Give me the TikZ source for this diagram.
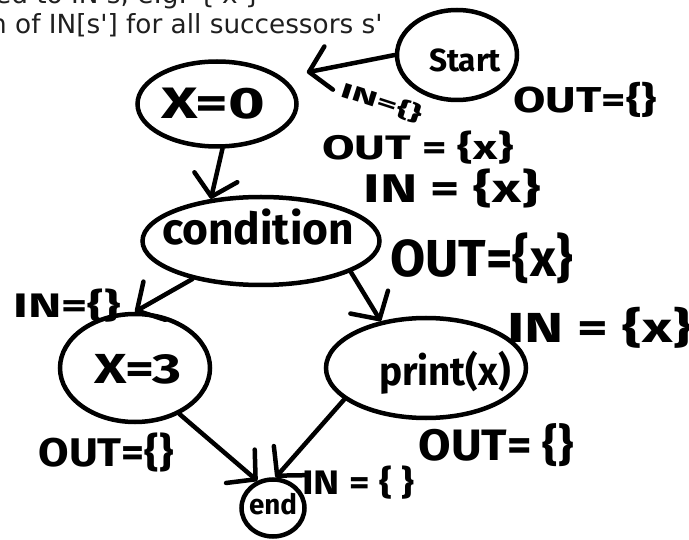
\documentclass[tikz,border=0pt]{standalone}
\usepackage{fontspec}
\setmainfont{DejaVu Sans}[Ligatures=TeXOff]
\newfontfamily\hand{Fira Sans}
\usetikzlibrary{shapes.geometric,arrows.meta}
\newsavebox\fitbox
\newcommand\fitw[3]{\begingroup\fontsize{#1}{#1}\selectfont\hand\bfseries
  \sbox\fitbox{#3}\pgfmathsetmacro\fitratio{#2/\the\wd\fitbox}%
  \scalebox{\fitratio}[1]{\usebox\fitbox}\endgroup}
\begin{document}
\begin{tikzpicture}[x=1pt,y=-1pt,
  blob/.style={draw, ellipse, line width=4.5pt, inner sep=0pt},
  inner/.style={inner sep=0pt},
  arr/.style={line width=4.5pt, line cap=round, line join=round,
    -{Straight Barb[length=20pt,width=44pt,round]}},
  hw/.style={inner sep=0pt},
  toptext/.style={anchor=base west, inner sep=0pt, text=black!88,
    font=\fontsize{26.3}{30}\selectfont}
]
\useasboundingbox (0,0) rectangle (689,540);

% top text (cropped in the reference)
\node[toptext] (t1) at (-5,4) {ed to IN s, e.g. \{'x'\}};
\node[toptext] (t2) at (-10,33.3) {n of IN[s'] for all successors s'};

% blobs
\node[blob, minimum width=120pt, minimum height=90pt,
  label={[inner, xshift=8pt, yshift=-5pt]center:{\fitw{32}{72}{Start}}}] (start) at (457,55) {};
\node[blob, minimum width=159pt, minimum height=85pt,
  label={[inner, xshift=-4pt]center:{\fitw{44}{104}{X=0}}}] (x0) at (217,104) {};
\node[blob, minimum width=237pt, minimum height=88pt,
  label={[inner, xshift=-3pt, yshift=14pt]center:{\fitw{44}{192}{condition}}}] (cond) at (261,241) {};
\node[blob, minimum width=150pt, minimum height=108pt,
  label={[inner, xshift=3pt, yshift=-1pt]center:{\fitw{42}{87}{X=3}}}] (x3) at (135,368) {};
\node[blob, minimum width=200pt, minimum height=100pt,
  label={[inner, xshift=19pt, yshift=-5pt]center:{\fitw{40}{132}{print(x)}}}] (print) at (426,368) {};
\node[blob, minimum width=63pt, minimum height=57pt,
  label={[inner, yshift=4pt]center:{\fitw{28}{48}{end}}}] (end) at (273,508) {};

% connectors
\draw[arr] (start.west) -- ([xshift=32pt]x0.north east);
\draw[arr] (x0.277) -- (cond.140);
\draw[arr] (cond.209) -- (x3.north);
\draw[arr] (cond.341) -- (print.134);
\draw[arr] (x3.314) -- (end.120);
\draw[arr] (print.201) -- (end.85);

% handwritten IN / OUT sets
\node[hw] (outstart) at (585,100) {\fitw{36}{143}{OUT=\{\}}};
\node[hw, rotate=-18] (inx0) at (382,102) {\fitw{21}{84}{IN=\{\}}};
\node[hw] (outx0) at (418,148) {\fitw{34}{192}{OUT = \{x\}}};
\node[hw] (incond) at (452,189) {\fitw{40}{177}{IN = \{x\}}};
\node[hw] (outcond) at (482,258) {\fitw{52}{183}{OUT=\{x\}}};
\node[hw] (inx3) at (67,306) {\fitw{34}{107}{IN=\{\}}};
\node[hw] (inprint) at (600,328) {\fitw{42}{186}{IN = \{x\}}};
\node[hw] (outx3) at (106,452) {\fitw{40}{135}{OUT=\{\}}};
\node[hw] (outprint) at (496,445) {\fitw{44}{155}{OUT= \{\}}};
\node[hw] (inend) at (358,483) {\fitw{34}{112}{IN = \{ \}}};
\end{tikzpicture}
\end{document}
